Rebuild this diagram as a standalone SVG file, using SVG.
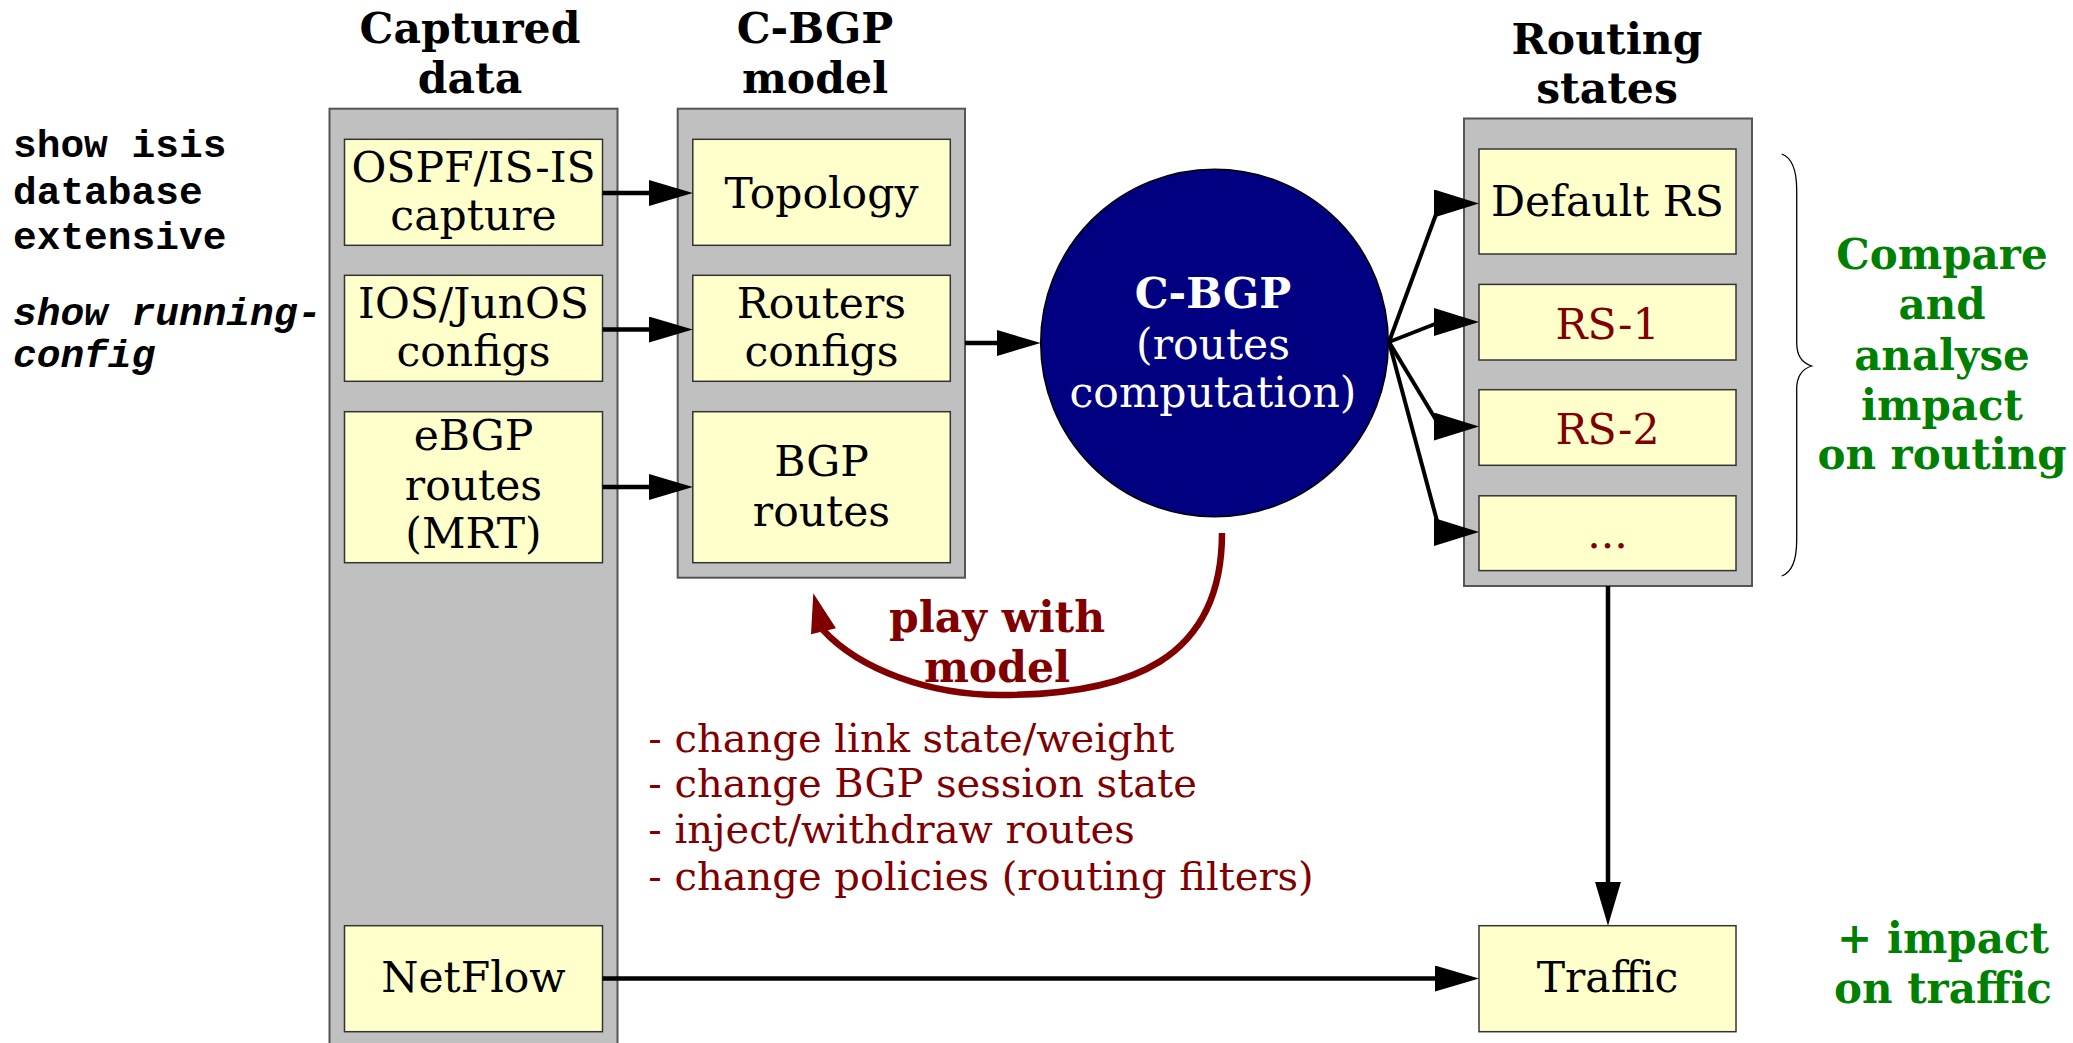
<svg xmlns="http://www.w3.org/2000/svg" width="2073" height="1043" viewBox="0 0 2073 1043">
<defs>
<style>
.panel{fill:#c0c0c0;stroke:#555;stroke-width:2}
.box{fill:#ffffcc;stroke:#333;stroke-width:1.5}
.t{font-family:"DejaVu Serif","Liberation Serif",serif;font-size:42.5px;text-anchor:middle;fill:#000}
.red{fill:#800000}
.title{font-family:"DejaVu Serif","Liberation Serif",serif;font-size:42.5px;font-weight:bold;text-anchor:middle;fill:#000}
.green{font-family:"DejaVu Serif","Liberation Serif",serif;font-size:42px;font-weight:bold;text-anchor:middle;fill:#008000}
.mono{font-family:"Liberation Mono","Courier New",monospace;font-size:39.5px;font-weight:bold;fill:#000}
.list{font-family:"DejaVu Serif","Liberation Serif",serif;font-size:40px;fill:#800000}
.conn{stroke:#000;stroke-width:4.5;fill:none;marker-end:url(#ah)}
.fan{stroke:#000;stroke-width:4;fill:none;marker-end:url(#ahh)}
</style>
<marker id="ah" markerUnits="userSpaceOnUse" markerWidth="44" markerHeight="28" refX="24" refY="13" orient="auto">
<path d="M0,0 L44,13 L0,26 z" fill="#000"/>
</marker>
<marker id="ahh" markerUnits="userSpaceOnUse" markerWidth="45" markerHeight="29" refX="6" refY="14" orient="0">
<path d="M0,0 L45,14 L0,28 z" fill="#000"/>
</marker>
</defs>
<rect width="2073" height="1043" fill="#fff"/>

<g id="annotations">
<text class="mono" x="13" y="157">show isis</text>
<text class="mono" x="13" y="203.5">database</text>
<text class="mono" x="13" y="249">extensive</text>
<text class="mono" x="13" y="325" font-style="italic">show running-</text>
<text class="mono" x="13" y="367" font-style="italic">config</text>
</g>

<g id="captured-data">
<rect class="panel" x="329.5" y="108.7" width="288" height="960"/>
<text class="title" x="470" y="43.3">Captured</text>
<text class="title" x="470" y="92.7">data</text>
</g>
<g id="ospf-capture">
<rect class="box" x="344.5" y="139.3" width="258" height="106"/>
<text class="t" x="473.5" y="181.7">OSPF/IS-IS</text>
<text class="t" x="473.5" y="230">capture</text>
</g>
<g id="ios-configs">
<rect class="box" x="344.5" y="275.3" width="258" height="106"/>
<text class="t" x="473.5" y="317.7">IOS/JunOS</text>
<text class="t" x="473.5" y="366">configs</text>
</g>
<g id="ebgp-routes">
<rect class="box" x="344.5" y="411.7" width="258" height="151"/>
<text class="t" x="473.5" y="450">eBGP</text>
<text class="t" x="473.5" y="499.5">routes</text>
<text class="t" x="473.5" y="548">(MRT)</text>
</g>
<g id="netflow">
<rect class="box" x="344.5" y="925.7" width="258" height="106"/>
<text class="t" x="473.5" y="992">NetFlow</text>
</g>

<g id="cbgp-model">
<rect class="panel" x="677.7" y="108.7" width="287.3" height="469"/>
<text class="title" x="815" y="43.3">C-BGP</text>
<text class="title" x="815" y="92.7">model</text>
</g>
<g id="topology">
<rect class="box" x="692.8" y="139.3" width="257.5" height="106"/>
<text class="t" x="821.5" y="207.5">Topology</text>
</g>
<g id="routers-configs">
<rect class="box" x="692.8" y="275.3" width="257.5" height="106"/>
<text class="t" x="821.5" y="317.7">Routers</text>
<text class="t" x="821.5" y="366">configs</text>
</g>
<g id="bgp-routes">
<rect class="box" x="692.8" y="411.7" width="257.5" height="151"/>
<text class="t" x="821.5" y="476">BGP</text>
<text class="t" x="821.5" y="526">routes</text>
</g>

<g id="cbgp">
<circle cx="1214.5" cy="343" r="173.8" fill="#000080" stroke="#000" stroke-width="1.5"/>
<text class="t" x="1213" y="308.3" font-weight="bold" style="fill:#fff">C-BGP</text>
<text class="t" x="1213" y="359" style="fill:#fff">(routes</text>
<text class="t" x="1213" y="407.3" style="fill:#fff">computation)</text>
</g>

<g id="routing-states">
<rect class="panel" x="1464" y="118.5" width="288" height="467.5"/>
<text class="title" x="1607" y="53.5">Routing</text>
<text class="title" x="1607" y="103">states</text>
</g>
<g id="default-rs">
<rect class="box" x="1479" y="149" width="257" height="105"/>
<text class="t" x="1607.5" y="215.5">Default RS</text>
</g>
<g id="rs-1">
<rect class="box" x="1479" y="284.4" width="257" height="75.6"/>
<text class="t red" x="1607.5" y="338.5">RS-1</text>
</g>
<g id="rs-2">
<rect class="box" x="1479" y="389.7" width="257" height="75.6"/>
<text class="t red" x="1607.5" y="443.5">RS-2</text>
</g>
<g id="rs-more">
<rect class="box" x="1479" y="495.8" width="257" height="74.8"/>
<text class="t red" x="1607.5" y="548">...</text>
</g>
<g id="traffic">
<rect class="box" x="1479" y="925.7" width="257" height="106"/>
<text class="t" x="1607.5" y="992">Traffic</text>
</g>

<g id="compare-note">
<path d="M1781.7,154 C1793,158 1796.7,172 1796.7,190 L1796.7,343 C1796.7,356 1802,363 1811.7,366 C1802,369 1796.7,376 1796.7,389 L1796.7,540 C1796.7,558 1793,572 1781.7,576" fill="none" stroke="#000" stroke-width="1.3"/>
<text class="green" x="1942" y="269.3">Compare</text>
<text class="green" x="1942" y="319">and</text>
<text class="green" x="1942" y="369.5">analyse</text>
<text class="green" x="1942" y="419.5">impact</text>
<text class="green" x="1942" y="468.5">on routing</text>
</g>
<g id="traffic-note">
<text class="green" x="1943" y="953.3">+ impact</text>
<text class="green" x="1943" y="1003.3">on traffic</text>
</g>

<g id="play-note">
<text class="title" x="997" y="631.7" style="fill:#800000">play with</text>
<text class="title" x="997" y="682.3" style="fill:#800000">model</text>
<text class="list" x="648.3" y="751.7">- change link state/weight</text>
<text class="list" x="648.3" y="797.3">- change BGP session state</text>
<text class="list" x="648.3" y="843.3">- inject/withdraw routes</text>
<text class="list" x="648.3" y="890">- change policies (routing filters)</text>
</g>

<g id="connectors">
<path class="conn" d="M602.5,193 H672.8"/>
<path class="conn" d="M602.5,329.5 H672.8"/>
<path class="conn" d="M602.5,487 H672.8"/>
<path class="conn" d="M965,343 H1020.7"/>
<path class="fan" d="M1389,342 L1440,203.5"/>
<path class="fan" d="M1389,342 L1440,322"/>
<path class="fan" d="M1389,342 L1440,426.5"/>
<path class="fan" d="M1389,342 L1440,532"/>
<path class="conn" d="M1608,586 V905.7"/>
<path class="conn" d="M602.5,978.5 H1459"/>
<path d="M1222,533 C1222,660 1130,695 1000,695 C930,695 860,670 823,630" fill="none" stroke="#800000" stroke-width="6.5"/>
<polygon points="813.3,593.3 811,634.3 836,628.3" fill="#800000"/>
</g>
</svg>
